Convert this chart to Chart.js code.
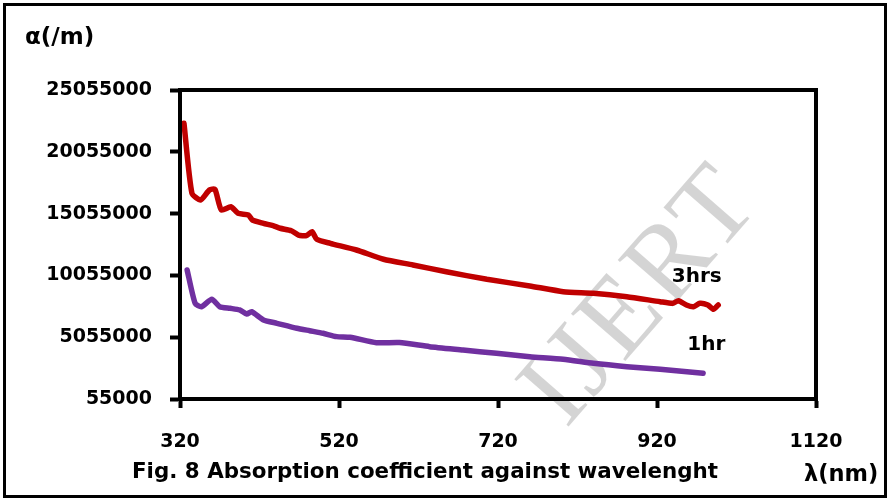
<!DOCTYPE html>
<html>
<head>
<meta charset="utf-8">
<script src="https://cdn.jsdelivr.net/npm/chart.js@4.4.1/dist/chart.umd.min.js"></script>
<style>
  body { margin: 0; background: #fff; }
  #wrap { position: relative; width: 890px; height: 501px; overflow: hidden; font-family: "DejaVu Sans", sans-serif; font-weight: bold; }
  #frame { position: absolute; left: 3px; top: 3px; width: 878px; height: 489px; border: 3px solid #000; }
  #mark { position: absolute; left: 637px; top: 292px; transform: translate(-50%, -50%) rotate(-49deg);
          font-family: "Liberation Serif", serif; font-weight: normal; font-size: 110px; letter-spacing: 4px;
          color: rgba(0, 0, 0, 0.17); white-space: nowrap; }
  canvas { position: absolute; left: 0; top: 0; }
  .lbl { position: absolute; color: #000; white-space: nowrap; }
</style>
</head>
<body>
<div id="wrap">
  <div id="frame"></div>
  <div id="mark">IJERT</div>
  <canvas id="absChart" width="890" height="501"></canvas>
  <div class="lbl" style="left:25px; top:23px; font-size:23px;">α(/m)</div>
  <div class="lbl" style="left:132px; top:458px; font-size:21.4px;">Fig. 8 Absorption coefficient against wavelenght</div>
  <div class="lbl" style="left:804px; top:460px; font-size:22.5px;">λ(nm)</div>
</div>
<script>
  // wavelength (nm) and absorption coefficient (/m) for each exposure time
  const wl3h = [325, 335, 346, 357, 364, 372, 384, 393, 406, 411, 425, 437, 446, 460, 469, 479, 486, 492,
                509, 542, 576, 613, 655, 706, 760, 802, 840, 882, 924, 940, 947, 957, 966, 974, 984, 991, 997];
  const alpha3h = [22360000, 16700000, 16160000, 16960000, 17020000, 15350000, 15610000, 15080000, 14940000,
                   14540000, 14270000, 14080000, 13870000, 13670000, 13320000, 13270000, 13590000, 12980000,
                   12650000, 12110000, 11360000, 10900000, 10350000, 9740000, 9200000, 8740000, 8610000,
                   8330000, 7930000, 7800000, 8010000, 7660000, 7520000, 7800000, 7660000, 7310000, 7660000];

  const wl1h = [329, 339, 347, 360, 370, 383, 395, 404, 410, 425, 442, 467, 483, 500, 517, 534, 567, 596,
                634, 676, 718, 760, 802, 840, 882, 924, 978];
  const alpha1h = [10490000, 7800000, 7520000, 8120000, 7520000, 7390000, 7260000, 6930000, 7120000, 6450000,
                   6180000, 5780000, 5580000, 5370000, 5100000, 5050000, 4610000, 4620000, 4290000, 4020000,
                   3750000, 3480000, 3270000, 2940000, 2670000, 2460000, 2130000];

  const xTicks = [320, 520, 720, 920, 1120];
  const yTicks = [55000, 5055000, 10055000, 15055000, 20055000, 25055000];

  // series name labels, placed in data coordinates next to the line ends
  const seriesNames = ['3hrs', '1hr'];
  const namePos = [[970, 9930000], [982, 4420000]];

  const toPoints = (xs, ys) => xs.map((x, i) => ({ x: x, y: ys[i] }));
  const tickFont = { family: 'DejaVu Sans', size: 19, weight: 'bold' };

  const plotBox = {
    id: 'plotBox',
    afterDraw(chart) {
      const { ctx, chartArea: a, scales } = chart;
      ctx.save();
      ctx.strokeStyle = '#000';
      ctx.lineWidth = 4;
      ctx.strokeRect(a.left, a.top, a.right - a.left, a.bottom - a.top);
      ctx.fillStyle = '#000';
      ctx.font = 'bold 20px "DejaVu Sans"';
      ctx.textAlign = 'center';
      ctx.textBaseline = 'middle';
      seriesNames.forEach((name, i) => {
        ctx.fillText(name, scales.x.getPixelForValue(namePos[i][0]), scales.y.getPixelForValue(namePos[i][1]));
      });
      ctx.restore();
    }
  };

  new Chart(document.getElementById('absChart'), {
    type: 'scatter',
    data: {
      datasets: [
        { label: '3hrs', data: toPoints(wl3h, alpha3h), showLine: true, borderColor: '#C00000',
          borderWidth: 5.5, pointRadius: 0, tension: 0.2, borderCapStyle: 'round', borderJoinStyle: 'round' },
        { label: '1hr', data: toPoints(wl1h, alpha1h), showLine: true, borderColor: '#7030A0',
          borderWidth: 5.5, pointRadius: 0, tension: 0.2, borderCapStyle: 'round', borderJoinStyle: 'round' }
      ]
    },
    options: {
      responsive: false,
      animation: false,
      layout: { padding: { top: 90, right: 74, left: 0, bottom: 0 } },
      plugins: { legend: { display: false }, tooltip: { enabled: false } },
      scales: {
        x: {
          type: 'linear', min: 320, max: 1120,
          afterBuildTicks: s => { s.ticks = xTicks.map(v => ({ value: v })); },
          afterFit: s => { s.height = 102; },
          ticks: { color: '#000', font: tickFont, padding: 23, maxRotation: 0, callback: v => String(v) },
          grid: { drawOnChartArea: false, drawTicks: true, tickLength: 9, tickWidth: 4, tickColor: '#000' },
          border: { color: '#000', width: 4 }
        },
        y: {
          min: 55000, max: 25055000,
          afterBuildTicks: s => { s.ticks = yTicks.map(v => ({ value: v })); },
          afterFit: s => { s.width = 180; },
          ticks: { color: '#000', font: tickFont, padding: 18, callback: v => String(v) },
          grid: { drawOnChartArea: false, drawTicks: true, tickLength: 10, tickWidth: 4, tickColor: '#000' },
          border: { color: '#000', width: 4 }
        }
      }
    },
    plugins: [plotBox]
  });
</script>
</body>
</html>
